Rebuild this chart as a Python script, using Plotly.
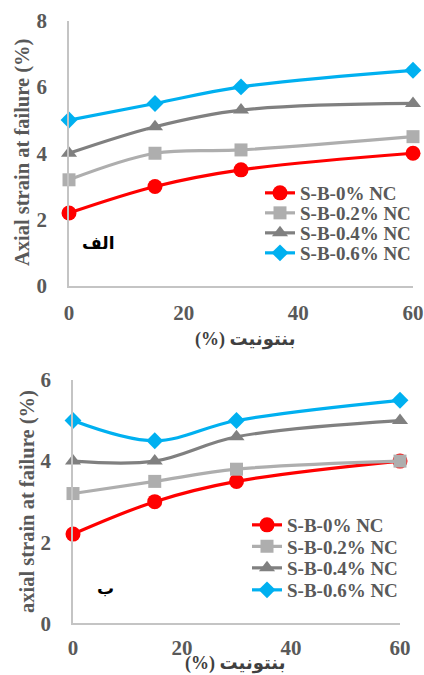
import plotly.graph_objects as go

W, H = 424, 675

bentonite = [0, 15, 30, 60]
series_names = ["S-B-0% NC", "S-B-0.2% NC", "S-B-0.4% NC", "S-B-0.6% NC"]

# panel (الف)
top_nc0 = [2.2, 3.0, 3.5, 4.0]
top_nc02 = [3.2, 4.0, 4.1, 4.5]
top_nc04 = [4.0, 4.8, 5.3, 5.5]
top_nc06 = [5.0, 5.5, 6.0, 6.5]

# panel (ب)
bot_nc0 = [2.2, 3.0, 3.5, 4.0]
bot_nc02 = [3.2, 3.5, 3.8, 4.0]
bot_nc04 = [4.0, 4.0, 4.6, 5.0]
bot_nc06 = [5.0, 4.5, 5.0, 5.5]

colors = ["#FF0000", "#AEAEAE", "#808080", "#00B0F0"]
symbols = ["circle", "square", "triangle-up", "diamond"]
msizes = [15, 13, 14, 13]

SERIF = "Liberation Serif, Times New Roman, DejaVu Serif, serif"
ARAB = "Liberation Serif, DejaVu Sans, Noto Sans, serif"
TICK_GRAY = "#595959"


def px_x(p):
    return p / W


def px_y(p):
    return 1 - p / H


fig = go.Figure()

# one legend box per entry so the rows can sit on a tight pitch
legend_layout = {}
top_rows = [193, 213, 233, 253]
bot_rows = [525, 546.5, 568, 590]

panels = [
    ("x", "y", [top_nc0, top_nc02, top_nc04, top_nc06], 260, top_rows),
    ("x2", "y2", [bot_nc0, bot_nc02, bot_nc04, bot_nc06], 247, bot_rows),
]
leg_idx = 0
for xa, ya, data, leg_x, rows in panels:
    for vals, name, c, s, ms, row in zip(data, series_names, colors, symbols,
                                         msizes, rows):
        leg_idx += 1
        key = "legend" if leg_idx == 1 else f"legend{leg_idx}"
        legend_layout[key] = dict(
            x=px_x(leg_x), y=px_y(row), xanchor="left", yanchor="middle",
            bgcolor="rgba(0,0,0,0)", borderwidth=0,
            font=dict(family=SERIF, size=19, color=TICK_GRAY, weight="bold"))
        fig.add_trace(go.Scatter(
            x=bentonite, y=vals, name=name, mode="lines+markers",
            line=dict(color=c, width=3.2, shape="spline"),
            marker=dict(symbol=s, size=ms, color=c),
            xaxis=xa, yaxis=ya, legend=key, cliponaxis=False))

axis_common = dict(
    showgrid=False, zeroline=False, showline=True, linecolor="#C4C4C4",
    linewidth=1.5, ticks="outside", tickcolor="rgba(0,0,0,0)",
    tickfont=dict(family=SERIF, size=21, color=TICK_GRAY, weight="bold"),
    fixedrange=True, automargin=False,
)

fig.update_layout(
    width=W, height=H, autosize=False,
    margin=dict(l=0, r=0, t=0, b=0, autoexpand=False),
    paper_bgcolor="white", plot_bgcolor="white",
    showlegend=True,
    xaxis=dict(domain=[px_x(69), px_x(413)], range=[0, 60], dtick=20,
               tick0=0, anchor="y", ticklen=7, **axis_common),
    yaxis=dict(domain=[px_y(286), px_y(20.5)], range=[0, 8], dtick=2,
               tick0=0, anchor="x", ticklen=16, **axis_common),
    xaxis2=dict(domain=[px_x(73), px_x(400)], range=[0, 60], dtick=20,
                tick0=0, anchor="y2", ticklen=5, **axis_common),
    yaxis2=dict(domain=[px_y(623.3), px_y(380)], range=[0, 6], dtick=2,
                tick0=0, anchor="x2", ticklen=16, **axis_common),
    **legend_layout,
)


def label(text, x, y, size, color, family, angle=0):
    return dict(text=text, x=px_x(x), y=px_y(y), xref="paper", yref="paper",
                xanchor="center", yanchor="middle", showarrow=False,
                textangle=angle, font=dict(family=family, size=size, color=color))


# bentonite axis title, laid out right-to-left: "(%)" sits on the left
x_title = "<b>(%) بنتونیت</b>"

ann = [
    # y-axis titles
    label("<b>Axial strain at failure (%)</b>", 22, 153, 20.5, TICK_GRAY, SERIF, -90),
    label("<b>axial strain at failure (%)</b>", 27, 502, 20.5, TICK_GRAY, SERIF, -90),
    # x-axis titles
    label(x_title, 245, 340, 18, "#404040", ARAB),
    label(x_title, 235, 663, 18, "#404040", ARAB),
    # panel labels
    label("<b>الف</b>", 98, 243, 17, "black", ARAB),
    label("<b>ب</b>", 105, 588, 17, "black", ARAB),
]
fig.update_layout(annotations=ann)

fig.write_html("out.html")
